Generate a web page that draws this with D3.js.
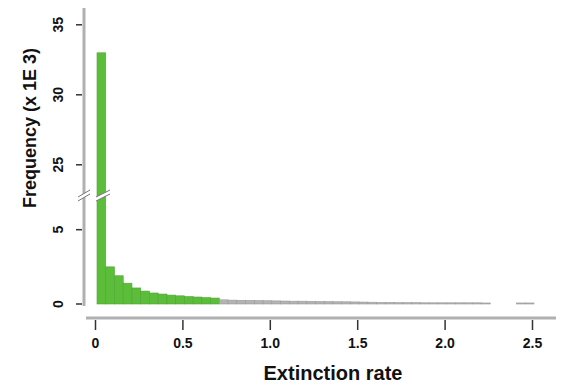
<!DOCTYPE html>
<html>
<head>
<meta charset="utf-8">
<script src="https://cdn.jsdelivr.net/npm/d3@7"></script>
<style>
  html, body { margin: 0; padding: 0; background: #fff; }
  text { font-family: "Liberation Sans Narrow", "Liberation Sans", sans-serif; fill: #111; }
</style>
</head>
<body>
<div id="chart"></div>
<script>
const width = 561, height = 392;

// bin starts (extinction rate), bin width 0.05
const binWidth = 0.05;
const binStart = d3.range(0, 50).map(i => +(i * binWidth).toFixed(2));
// frequency x 1000
const freq = [33.0, 2.5, 1.9, 1.4, 1.08, 0.87, 0.74, 0.67, 0.6, 0.55, 0.5, 0.47, 0.43, 0.4,
  0.28, 0.26, 0.25, 0.24, 0.23, 0.22, 0.21, 0.2, 0.19, 0.19, 0.18, 0.17, 0.16, 0.15, 0.15, 0.14, 0.13, 0.12,
  0.1, 0.1, 0.09, 0.09, 0.09, 0.08, 0.08, 0.08, 0.08, 0.08, 0.08, 0.08, 0.07,
  0, 0, 0, 0.07, 0.07];
const greenUntil = 0.7;

const xTicks = [0, 0.5, 1.0, 1.5, 2.0, 2.5];
const xTickLabels = ['0', '0.5', '1.0', '1.5', '2.0', '2.5'];
const yLowTicks = [0, 5];
const yHighTicks = [25, 30, 35];
const breakLow = 7.2, breakHigh = 22.7;

const svg = d3.select('#chart').append('svg')
  .attr('width', width).attr('height', height);

const x = d3.scaleLinear().domain([0, 2.5]).range([95, 532]);
const yLow = d3.scaleLinear().domain([0, breakLow]).range([304, 197]);
const yHigh = d3.scaleLinear().domain([breakHigh, 36.2]).range([197, 8]);
const yPos = v => v <= breakLow ? yLow(v) : yHigh(v);

// bars
const bins = binStart.map((s, i) => ({ x0: s, x1: s + binWidth, v: freq[i] })).filter(d => d.v > 0);
svg.append('g').attr('id', 'bars')
  .selectAll('rect')
  .data(bins)
  .join('rect')
  .attr('x', d => x(d.x0) + 2)
  .attr('width', d => x(d.x1) - x(d.x0))
  .attr('y', d => yPos(d.v))
  .attr('height', d => yLow(0) - yPos(d.v))
  .attr('fill', d => d.x0 < greenUntil - 1e-9 ? '#5cbd3a' : '#b3b3b3')
  .attr('stroke', d => d.x0 < greenUntil - 1e-9 ? '#4fa633' : '#9a9a9a')
  .attr('stroke-width', 0.6);

// y axis (two segments)
const yAxisG = svg.append('g').attr('id', 'y-axis');
yAxisG.append('line')
  .attr('x1', 84).attr('x2', 84).attr('y1', 8).attr('y2', 306)
  .attr('stroke', '#b0b0b0').attr('stroke-width', 3);

const yTickData = yLowTicks.map(v => ({ v, y: yLow(v) }))
  .concat(yHighTicks.map(v => ({ v, y: yHigh(v) })));
const yt = yAxisG.selectAll('g.tick').data(yTickData).join('g').attr('class', 'tick');
yt.append('line')
  .attr('x1', 76).attr('x2', 82).attr('y1', d => d.y).attr('y2', d => d.y)
  .attr('stroke', '#333').attr('stroke-width', 1.5);
yt.append('text')
  .attr('transform', d => `translate(63,${d.y}) rotate(-90)`)
  .attr('text-anchor', 'middle')
  .attr('font-size', 14).attr('font-weight', 'bold')
  .text(d => d.v);

// axis break marks
const breakY = 195;
[[78, 90], [96, 110]].forEach(([a, b]) => {
  const g = svg.append('g');
  g.append('path')
    .attr('d', `M${a},${breakY + 2} L${b},${breakY - 5} L${b},${breakY - 1} L${a},${breakY + 6} Z`)
    .attr('fill', '#fff').attr('stroke', 'none');
  [0, 4].forEach(o => g.append('line')
    .attr('x1', a).attr('y1', breakY + 2 + o).attr('x2', b).attr('y2', breakY - 5 + o)
    .attr('stroke', '#777').attr('stroke-width', 1));
});

// x axis
const xAxisG = svg.append('g').attr('id', 'x-axis').attr('transform', 'translate(0,318)')
  .call(d3.axisBottom(x).tickValues(xTicks).tickFormat((d, i) => xTickLabels[i]).tickSize(12).tickSizeOuter(0));
xAxisG.select('.domain').remove();
xAxisG.insert('line', ':first-child')
  .attr('x1', 86).attr('x2', 556).attr('y1', 0).attr('y2', 0)
  .attr('stroke', '#b0b0b0').attr('stroke-width', 3);
xAxisG.selectAll('.tick line').attr('stroke', '#333').attr('stroke-width', 1.5).attr('y1', 2);
xAxisG.selectAll('.tick text')
  .attr('y', 20).attr('font-size', 14).attr('font-weight', 'bold')
  .attr('font-family', '"Liberation Sans Narrow", "Liberation Sans", sans-serif')
  .attr('fill', '#111');

// titles
svg.append('text')
  .attr('x', 333).attr('y', 380)
  .attr('text-anchor', 'middle').attr('font-size', 20).attr('font-weight', 'bold')
  .text('Extinction rate');
svg.append('text')
  .attr('transform', 'translate(36,128) rotate(-90)')
  .attr('text-anchor', 'middle').attr('font-size', 18).attr('font-weight', 'bold')
  .text('Frequency (x 1E 3)');
</script>
</body>
</html>
